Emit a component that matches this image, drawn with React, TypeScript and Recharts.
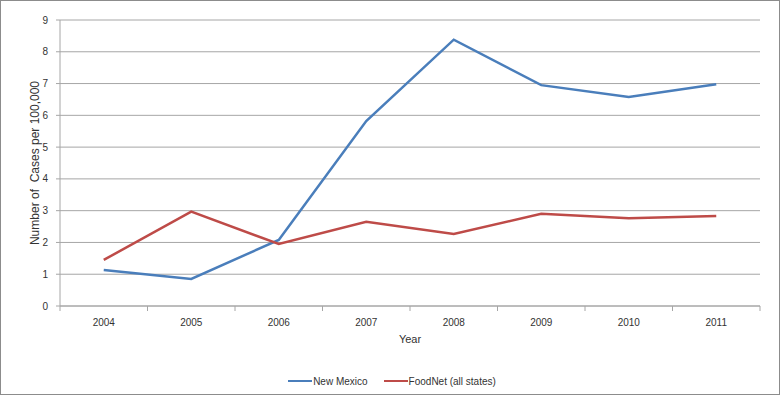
import React from 'react';
import { LineChart, Line, XAxis, YAxis, CartesianGrid, Legend } from 'recharts';

const years = ['2004', '2005', '2006', '2007', '2008', '2009', '2010', '2011'];
const newMexico = [1.13, 0.85, 2.08, 5.82, 8.38, 6.95, 6.58, 6.98];
const foodNet = [1.45, 2.97, 1.95, 2.65, 2.27, 2.9, 2.76, 2.83];
const yTicks = [0, 1, 2, 3, 4, 5, 6, 7, 8, 9];

const data = years.map((year, i) => ({
  year,
  nm: newMexico[i],
  fn: foodNet[i],
}));

const FONT = '"Liberation Sans", Arial, sans-serif';
const BLUE = '#4a7ebb';
const RED = '#be4b48';

// category label in the middle of the band, tick marks on the band edges
const YearTick = (props: any) => {
  const { x, y, payload, index } = props;
  const half = payload.offset || 0;
  return (
    <g>
      <line x1={x - half} y1={y - 8} x2={x - half} y2={y - 3} stroke="#a6a6a6" />
      {index === years.length - 1 && (
        <line x1={x + half} y1={y - 8} x2={x + half} y2={y - 3} stroke="#a6a6a6" />
      )}
      <text x={x} y={y + 12} textAnchor="middle" fontSize={10} fill="#333" fontFamily={FONT}>
        {payload.value}
      </text>
    </g>
  );
};

const LegendBox = () => (
  <div style={{ height: 30, display: 'flex', justifyContent: 'center', alignItems: 'center', fontFamily: FONT, fontSize: 10, color: '#333', paddingLeft: 4 }}>
    <span style={{ display: 'inline-block', width: 24, height: 2.5, background: BLUE, marginRight: 1 }} />
    <span style={{ marginRight: 16 }}>New Mexico</span>
    <span style={{ display: 'inline-block', width: 24, height: 2.5, background: RED, marginRight: 1 }} />
    <span>FoodNet (all states)</span>
  </div>
);

export default function App() {
  return (
    <div style={{ position: 'absolute', left: 0, top: 0, width: 780, height: 396, background: '#fff' }}>
      <div style={{ position: 'absolute', left: 0, top: 0, width: 778, height: 393, border: '1px solid #8c8c8c' }} />
      <LineChart width={780} height={396} data={data} margin={{ top: 20, right: 20, left: 20, bottom: 0 }}>
        <CartesianGrid vertical={false} stroke="#a6a6a6" />
        <XAxis
          dataKey="year"
          scale="band"
          height={60}
          stroke="#a6a6a6"
          tickLine={false}
          tick={<YearTick />}
          label={{ value: 'Year', position: 'insideTop', offset: 29, fontSize: 11, fill: '#333', fontFamily: FONT }}
        />
        <YAxis
          domain={[0, 9]}
          ticks={yTicks}
          width={40}
          stroke="#a6a6a6"
          tickSize={4}
          tickMargin={8}
          tick={{ fontSize: 10, fill: '#333', fontFamily: FONT }}
          label={({ viewBox }: any) => (
            <text
              x={viewBox.x + 15}
              y={viewBox.y + viewBox.height / 2}
              transform={`rotate(-90, ${viewBox.x + 15}, ${viewBox.y + viewBox.height / 2})`}
              textAnchor="middle"
              dominantBaseline="central"
              fontSize={12}
              fill="#333"
              fontFamily={FONT}
              style={{ whiteSpace: 'pre' }}
            >
              Number of  Cases per 100,000
            </text>
          )}
        />
        <Legend verticalAlign="bottom" height={30} content={<LegendBox />} />
        <Line dataKey="nm" name="New Mexico" stroke={BLUE} strokeWidth={2.5} dot={false} isAnimationActive={false} />
        <Line dataKey="fn" name="FoodNet (all states)" stroke={RED} strokeWidth={2.5} dot={false} isAnimationActive={false} />
      </LineChart>
    </div>
  );
}
